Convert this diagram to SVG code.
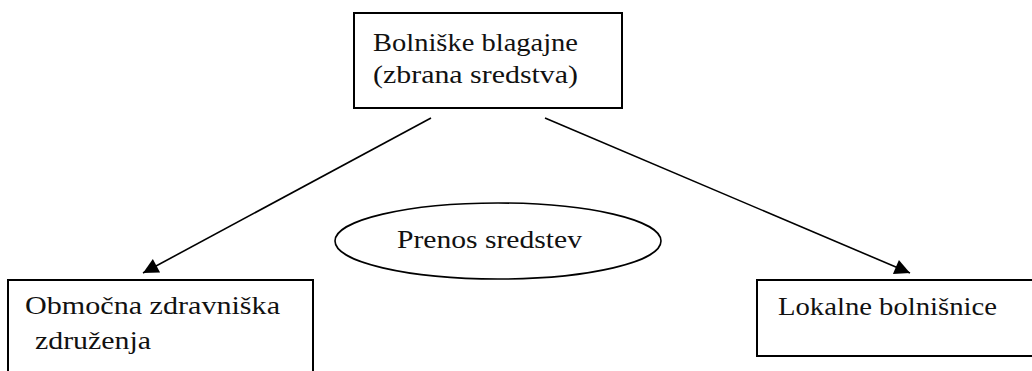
<svg xmlns="http://www.w3.org/2000/svg" width="1032" height="371" viewBox="0 0 1032 371">
  <style>
    .box { fill: #fff; stroke: #000; stroke-width: 2; }
    .lbl { font-family: "Liberation Serif", "Times New Roman", serif; font-size: 25px; fill: #111; }
    .edge { stroke: #000; stroke-width: 1.6; fill: none; marker-end: url(#arrow); }
  </style>
  <defs>
    <marker id="arrow" viewBox="0 0 10 10" refX="10" refY="5" markerWidth="11" markerHeight="9" markerUnits="userSpaceOnUse" orient="auto" overflow="visible">
      <path d="M0,0 L10,5 L0,10 Z" fill="#000" transform="scale(1.7)" transform-origin="10 5"/>
    </marker>
  </defs>

  <rect width="1032" height="371" fill="#fff"/>

  <g id="connectors">
    <line class="edge" x1="431" y1="118" x2="143" y2="273"/>
    <line class="edge" x1="545" y1="118" x2="910" y2="273"/>
  </g>

  <g id="bolniske-blagajne">
    <rect class="box" x="354" y="13" width="268" height="95"/>
    <text class="lbl" x="373" y="51" textLength="205" lengthAdjust="spacingAndGlyphs">Bolniške blagajne</text>
    <text class="lbl" x="373" y="83" textLength="205" lengthAdjust="spacingAndGlyphs">(zbrana sredstva)</text>
  </g>

  <g id="prenos-sredstev">
    <ellipse class="box" cx="498" cy="241" rx="163" ry="38" style="stroke-width:1.6"/>
    <text class="lbl" x="397" y="248" textLength="185" lengthAdjust="spacingAndGlyphs">Prenos sredstev</text>
  </g>

  <g id="obmocna-zdravniska-zdruzenja">
    <rect class="box" x="8" y="280" width="305" height="110"/>
    <text class="lbl" x="25" y="314" textLength="255" lengthAdjust="spacingAndGlyphs">Območna zdravniška</text>
    <text class="lbl" x="35" y="349" textLength="116" lengthAdjust="spacingAndGlyphs">združenja</text>
  </g>

  <g id="lokalne-bolnisnice">
    <rect class="box" x="757" y="280" width="290" height="76"/>
    <text class="lbl" x="778" y="315" textLength="219" lengthAdjust="spacingAndGlyphs">Lokalne bolnišnice</text>
  </g>
</svg>
